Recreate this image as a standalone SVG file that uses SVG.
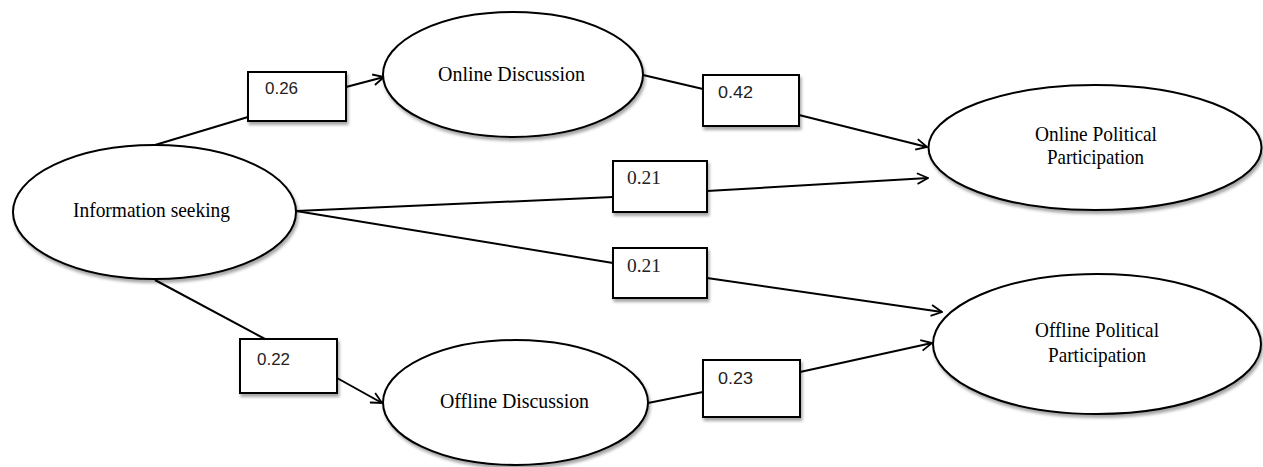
<svg xmlns="http://www.w3.org/2000/svg" width="1263" height="467" viewBox="0 0 1263 467">
<style>
.node{fill:#fff;stroke:#000;stroke-width:2;filter:url(#sh)}
.lbl{font-family:"Liberation Serif","Times New Roman",serif;font-size:22px;fill:#000;text-anchor:middle}
.num{font-family:"Liberation Sans",Arial,sans-serif;font-size:16px;fill:#222}
.numS{font-family:"Liberation Serif","Times New Roman",serif;font-size:18px;fill:#222}
.edge{stroke:#000;stroke-width:2;fill:none}
</style>
<defs>
<filter id="sh" x="-10%" y="-10%" width="130%" height="140%">
<feDropShadow dx="1.5" dy="3" stdDeviation="1.5" flood-color="#000" flood-opacity="0.35"/>
</filter>
<marker id="arr" viewBox="0 0 12 12" refX="11" refY="6" markerWidth="13" markerHeight="13" markerUnits="userSpaceOnUse" orient="auto">
<path d="M1,1 L11,6 L1,11" fill="none" stroke="#000" stroke-width="1.7"/>
</marker>
</defs>
<rect width="1263" height="467" fill="#fff"/>
<g id="connectors">
<line class="edge" x1="155" y1="145" x2="248" y2="117"/>
<line class="edge" x1="346" y1="87" x2="384" y2="77" marker-end="url(#arr)"/>
<line class="edge" x1="643" y1="75" x2="703" y2="89"/>
<line class="edge" x1="799" y1="115" x2="927" y2="147" marker-end="url(#arr)"/>
<line class="edge" x1="296" y1="211" x2="613" y2="197"/>
<line class="edge" x1="707" y1="191" x2="928" y2="178" marker-end="url(#arr)"/>
<line class="edge" x1="296" y1="211" x2="613" y2="263"/>
<line class="edge" x1="707" y1="278" x2="942" y2="312" marker-end="url(#arr)"/>
<line class="edge" x1="155" y1="280" x2="265" y2="339"/>
<line class="edge" x1="337" y1="378" x2="382" y2="403" marker-end="url(#arr)"/>
<line class="edge" x1="648" y1="403" x2="703" y2="392"/>
<line class="edge" x1="800" y1="372" x2="932" y2="343" marker-end="url(#arr)"/>
</g>
<g id="info-seeking">
<ellipse class="node" cx="154.5" cy="212" rx="141.5" ry="67"/>
<text class="lbl" x="151.5" y="217" textLength="157" lengthAdjust="spacingAndGlyphs">Information seeking</text>
</g>
<g id="online-discussion">
<ellipse class="node" cx="513" cy="74.5" rx="130" ry="62.5"/>
<text class="lbl" x="511.5" y="81" textLength="147" lengthAdjust="spacingAndGlyphs">Online Discussion</text>
</g>
<g id="offline-discussion">
<ellipse class="node" cx="515.5" cy="402.5" rx="132.5" ry="62.5"/>
<text class="lbl" x="514.5" y="408" textLength="149" lengthAdjust="spacingAndGlyphs">Offline Discussion</text>
</g>
<g id="online-political-participation">
<ellipse class="node" cx="1095" cy="147.5" rx="166.5" ry="62.5"/>
<text class="lbl" x="1096" y="141" textLength="122" lengthAdjust="spacingAndGlyphs">Online Political</text>
<text class="lbl" x="1095.5" y="164" textLength="97" lengthAdjust="spacingAndGlyphs">Participation</text>
</g>
<g id="offline-political-participation">
<ellipse class="node" cx="1097" cy="344" rx="164" ry="70"/>
<text class="lbl" x="1097" y="337" textLength="124" lengthAdjust="spacingAndGlyphs">Offline Political</text>
<text class="lbl" x="1097" y="362" textLength="98" lengthAdjust="spacingAndGlyphs">Participation</text>
</g>
<g id="coef-026">
<rect class="node" x="248" y="72" width="98" height="49"/>
<text class="num" x="265" y="94" textLength="33" lengthAdjust="spacingAndGlyphs">0.26</text>
</g>
<g id="coef-042">
<rect class="node" x="703" y="75" width="96" height="51"/>
<text class="num" x="718" y="98" textLength="35" lengthAdjust="spacingAndGlyphs">0.42</text>
</g>
<g id="coef-021-online">
<rect class="node" x="613" y="161" width="94" height="51"/>
<text class="numS" x="627" y="184" textLength="34" lengthAdjust="spacingAndGlyphs">0.21</text>
</g>
<g id="coef-021-offline">
<rect class="node" x="613" y="248" width="94" height="50"/>
<text class="numS" x="627" y="272" textLength="34" lengthAdjust="spacingAndGlyphs">0.21</text>
</g>
<g id="coef-022">
<rect class="node" x="240" y="339" width="97" height="54"/>
<text class="num" x="257" y="365" textLength="33" lengthAdjust="spacingAndGlyphs">0.22</text>
</g>
<g id="coef-023">
<rect class="node" x="703" y="360" width="97" height="57"/>
<text class="num" x="718" y="384" textLength="35" lengthAdjust="spacingAndGlyphs">0.23</text>
</g>
</svg>
